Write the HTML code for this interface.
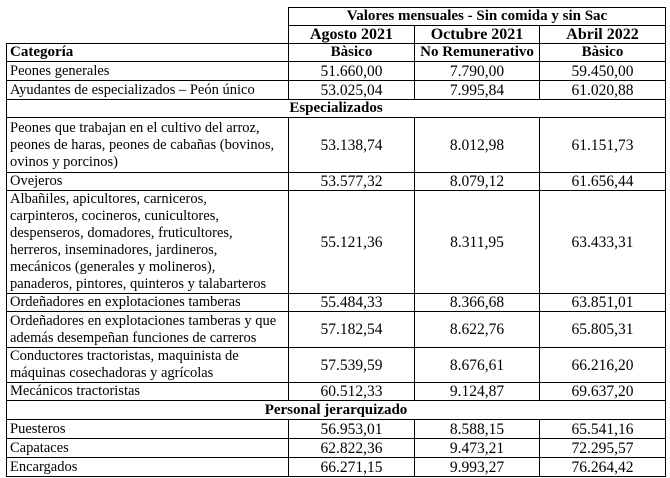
<!DOCTYPE html>
<html><head><meta charset="utf-8"><style>
body{margin:0;background:#fff;}
table{position:absolute;left:6px;top:7px;border-collapse:collapse;table-layout:fixed;font-family:"Liberation Serif",serif;font-size:14.5px;color:#000;}
td{border:1px solid #000;padding:0 3px;line-height:17px;vertical-align:middle;overflow:hidden;white-space:nowrap;}
td.n{text-align:center;font-size:15.5px;}
td.h{text-align:center;font-weight:bold;font-size:15px;}
td.e{border:none;border-right:1px solid #000;}
</style></head><body>
<table>
<colgroup><col style="width:282px"><col style="width:126px"><col style="width:125px"><col style="width:126px"></colgroup>
<tr style="height:18px"><td class="e"></td><td class="h" colspan="3">Valores mensuales - Sin comida y sin Sac</td></tr>
<tr style="height:17px"><td class="e" style="border-bottom:1px solid #000"></td><td class="h" style="font-size:16px">Agosto 2021</td><td class="h" style="font-size:16px">Octubre 2021</td><td class="h" style="font-size:16px">Abril 2022</td></tr>
<tr style="height:18px"><td style="font-weight:bold;font-size:15px">Categoría</td><td class="h">Bàsico</td><td class="h">No Remunerativo</td><td class="h">Bàsico</td></tr>
<tr style="height:19px"><td>Peones generales</td><td class="n">51.660,00</td><td class="n">7.790,00</td><td class="n">59.450,00</td></tr>
<tr style="height:19px"><td>Ayudantes de especializados – Peón único</td><td class="n">53.025,04</td><td class="n">7.995,84</td><td class="n">61.020,88</td></tr>
<tr style="height:18px"><td class="h" colspan="4">Especializados</td></tr>
<tr style="height:55px"><td>Peones que trabajan en el cultivo del arroz,<br>peones de haras, peones de cabañas (bovinos,<br>ovinos y porcinos)</td><td class="n">53.138,74</td><td class="n">8.012,98</td><td class="n">61.151,73</td></tr>
<tr style="height:18px"><td>Ovejeros</td><td class="n">53.577,32</td><td class="n">8.079,12</td><td class="n">61.656,44</td></tr>
<tr style="height:102px"><td>Albañiles, apicultores, carniceros,<br>carpinteros, cocineros, cunicultores,<br>despenseros, domadores, fruticultores,<br>herreros, inseminadores, jardineros,<br>mecánicos (generales y molineros),<br>panaderos, pintores, quinteros y talabarteros</td><td class="n">55.121,36</td><td class="n">8.311,95</td><td class="n">63.433,31</td></tr>
<tr style="height:18px"><td>Ordeñadores en explotaciones tamberas</td><td class="n">55.484,33</td><td class="n">8.366,68</td><td class="n">63.851,01</td></tr>
<tr style="height:36px"><td>Ordeñadores en explotaciones tamberas y que<br>además desempeñan funciones de carreros</td><td class="n">57.182,54</td><td class="n">8.622,76</td><td class="n">65.805,31</td></tr>
<tr style="height:35px"><td>Conductores tractoristas, maquinista de<br>máquinas cosechadoras y agrícolas</td><td class="n">57.539,59</td><td class="n">8.676,61</td><td class="n">66.216,20</td></tr>
<tr style="height:18px"><td>Mecánicos tractoristas</td><td class="n">60.512,33</td><td class="n">9.124,87</td><td class="n">69.637,20</td></tr>
<tr style="height:19px"><td class="h" colspan="4">Personal jerarquizado</td></tr>
<tr style="height:19px"><td>Puesteros</td><td class="n">56.953,01</td><td class="n">8.588,15</td><td class="n">65.541,16</td></tr>
<tr style="height:19px"><td>Capataces</td><td class="n">62.822,36</td><td class="n">9.473,21</td><td class="n">72.295,57</td></tr>
<tr style="height:19px"><td>Encargados</td><td class="n">66.271,15</td><td class="n">9.993,27</td><td class="n">76.264,42</td></tr>
</table>
</body></html>
